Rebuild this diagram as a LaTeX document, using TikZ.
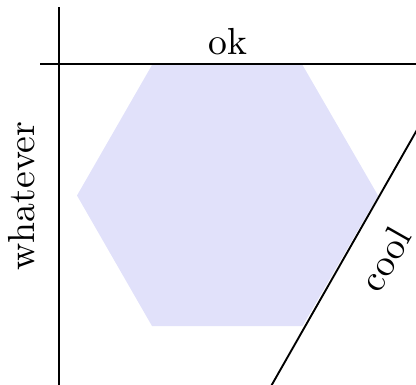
\documentclass[tikz,border=0pt]{standalone}
\definecolor{hexfill}{RGB}{225,225,250}
\tikzset{axisline/.style={line width=0.5pt, black},
  lbl/.style={inner sep=0pt, font=\normalsize}}
\begin{document}
\begin{tikzpicture}[x=0.2653pt, y=-0.2653pt]
\useasboundingbox (0,0) rectangle (416,384);
\clip (0,0) rectangle (416,384);
% hexagon
\coordinate (h1) at (152,65);
\coordinate (h2) at (302.5,65);
\coordinate (h3) at (378,195.5);
\coordinate (h4) at (302.5,326);
\coordinate (h5) at (152,326);
\coordinate (h6) at (77,195.5);
\fill[hexfill] (h1) -- (h2) -- (h3) -- (h4) -- (h5) -- (h6) -- cycle;
% lines
\coordinate (vtop) at (59,7);
\coordinate (vbot) at (59,400);
\coordinate (hl) at (40,64);
\coordinate (hr) at (430,64);
\coordinate (da) at (262,402);
\coordinate (db) at (430,107);
\draw[axisline] (vtop) -- (vbot);
\draw[axisline] (hl) -- (hr);
\draw[axisline] (da) -- (db);
% labels
\node[lbl] (ok) at (228,42) {ok};
\node[lbl, rotate=90] (wh) at (22,196) {whatever};
\node[lbl, rotate=60.4] (cool) at (385,259) {cool};
\end{tikzpicture}
\end{document}
